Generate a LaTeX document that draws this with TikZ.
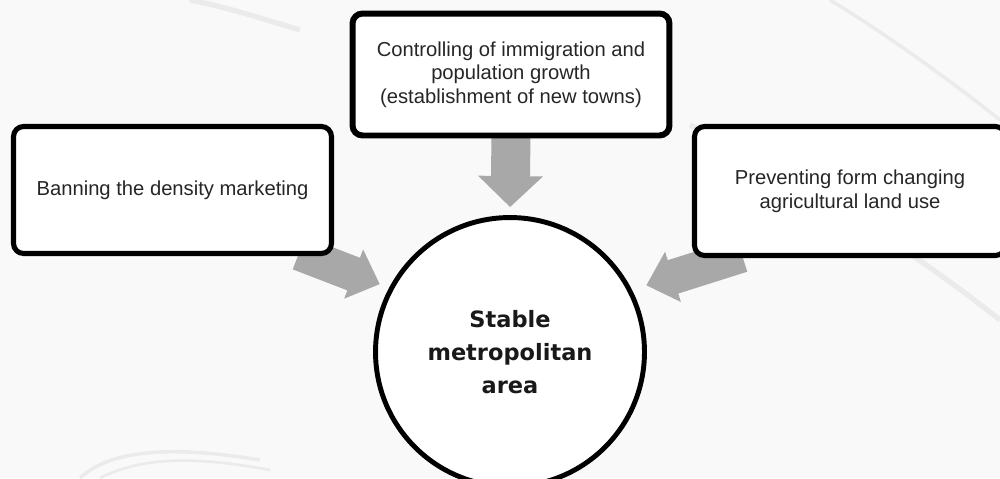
\documentclass[tikz,border=0pt]{standalone}
\usepackage{fontspec}
\setmainfont{Liberation Sans}
\newfontfamily\circfont{DejaVu Sans}
\usetikzlibrary{arrows.meta,calc}
\pgfdeclarelayer{bg}
\pgfdeclarelayer{arrowlayer}
\pgfsetlayers{bg,arrowlayer,main}
\definecolor{arrowgray}{HTML}{A8A8A8}
\definecolor{bggray}{HTML}{F9F9F9}
\definecolor{swoosh}{HTML}{EBEBEB}
\begin{document}
\begin{tikzpicture}[x=0.02cm,y=-0.02cm,
  boxstyle/.style={draw=black,fill=white,rounded corners=0.2cm,align=center,
    font=\fontsize{11.5}{13.5}\selectfont,text=black!85,inner sep=0pt},
  circstyle/.style={circle,draw=black,fill=white,line width=2.8pt,minimum size=5.38cm,
    align=center,font=\circfont\fontsize{12.8}{18.8}\selectfont\bfseries,text=black!90,inner sep=0pt},
  fatarrow/.style={draw=arrowgray,line cap=butt,
    -{Triangle[length=0.56cm,width=1.02cm]}},
]
\useasboundingbox (0,0) rectangle (1000,478);
\begin{pgfonlayer}{bg}
\fill[bggray] (0,0) rectangle (1000,478);
\draw[swoosh,line width=3pt] (190,0) .. controls (230,8) and (260,18) .. (300,30);
\draw[swoosh,line width=2pt] (80,478) .. controls (110,450) and (170,445) .. (260,460);
\draw[swoosh,line width=1.5pt] (100,478) .. controls (140,458) and (190,455) .. (270,470);
\draw[swoosh,line width=3pt] (690,125) .. controls (780,170) and (900,240) .. (1000,320);
\draw[swoosh,line width=2pt] (830,0) .. controls (880,30) and (950,80) .. (1000,120);
\end{pgfonlayer}

\node[circstyle] (circ) at (510,352) {Stable\\metropolitan\\area};

\node[boxstyle,line width=3.4pt,minimum width=6.34cm,minimum height=2.44cm] (top) at (511,74.5)
  {Controlling of immigration and\\population growth\\(establishment of new towns)};
\node[boxstyle,line width=2.9pt,minimum width=6.36cm,minimum height=2.54cm] (lb) at (172.5,190)
  {Banning the density marketing};
\node[boxstyle,line width=2.9pt,minimum width=6.22cm,minimum height=2.58cm] (rb) at (850,191)
  {Preventing form changing\\agricultural land use};

\coordinate (lstart) at ($(lb.south east)+(-35,-3)$);
\coordinate (rstart) at ($(rb.south west)+(50,-3)$);

\begin{pgfonlayer}{arrowlayer}
\draw[fatarrow,line width=0.78cm,-{Triangle[length=0.62cm,width=1.26cm]},shorten >=0.16cm]
  ($(top.south)+(0,-3)$) -- (circ.north);
\draw[fatarrow,line width=0.7cm,shorten >=0.2cm] (lstart) -- (circ.152.7);
\draw[fatarrow,line width=0.7cm,shorten >=0.3cm] (rstart) -- (circ.27);
\end{pgfonlayer}
\end{tikzpicture}
\end{document}
